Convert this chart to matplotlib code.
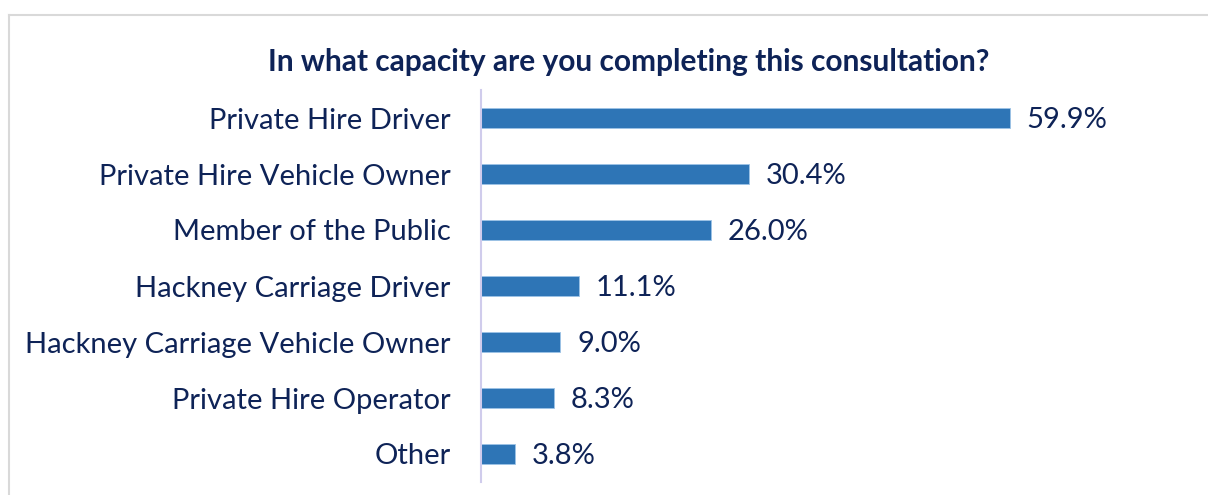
import matplotlib
matplotlib.use("Agg")
import matplotlib.pyplot as plt
from matplotlib.lines import Line2D

categories = ["Private Hire Driver", "Private Hire Vehicle Owner", "Member of the Public",
              "Hackney Carriage Driver", "Hackney Carriage Vehicle Owner",
              "Private Hire Operator", "Other"]
values = [59.9, 30.4, 26.0, 11.1, 9.0, 8.3, 3.8]
title = "In what capacity are you completing this consultation?"

W, H = 1208, 495
plt.rcParams['font.family'] = ['Lato', 'DejaVu Sans']
txt = "#0E2357"
bar_c = "#2E75B6"

fig = plt.figure(figsize=(W/100, H/100), dpi=100)
ax = fig.add_axes([481/W, 13/H, (1100-481)/W, (482-90)/H])

y = list(range(len(categories)))
ax.barh(y, values, height=0.36, color=bar_c, edgecolor="#9DC3E6", linewidth=0.6)
ax.set_ylim(len(categories)-0.5, -0.5)
ax.set_xlim(0, (1100-481)/8.83)
ax.set_yticks(y)
ax.set_yticklabels(categories, fontsize=21, color=txt)
ax.tick_params(axis='y', length=0, pad=22)
ax.set_xticks([])
for s in ["top", "right", "bottom"]:
    ax.spines[s].set_visible(False)
ax.spines["left"].set_color("#D0CCEC")
ax.spines["left"].set_linewidth(1.5)

for yi, v in zip(y, values):
    ax.text(v + 1.9, yi + 0.04, f"{v:.1f}%", va="center", ha="left", fontsize=21, color=txt)

fig.text(629/W, 1-62/H, title, ha="center", va="center", fontsize=21.5,
         fontweight="bold", color=txt)

# chart border
fig.add_artist(Line2D([9/W, 9/W], [0, 1-15/H], transform=fig.transFigure, color="#D9D9D9", lw=1.5))
fig.add_artist(Line2D([9/W, 1], [1-15/H, 1-15/H], transform=fig.transFigure, color="#D9D9D9", lw=1.5))

fig.savefig("out.png", dpi=100)
